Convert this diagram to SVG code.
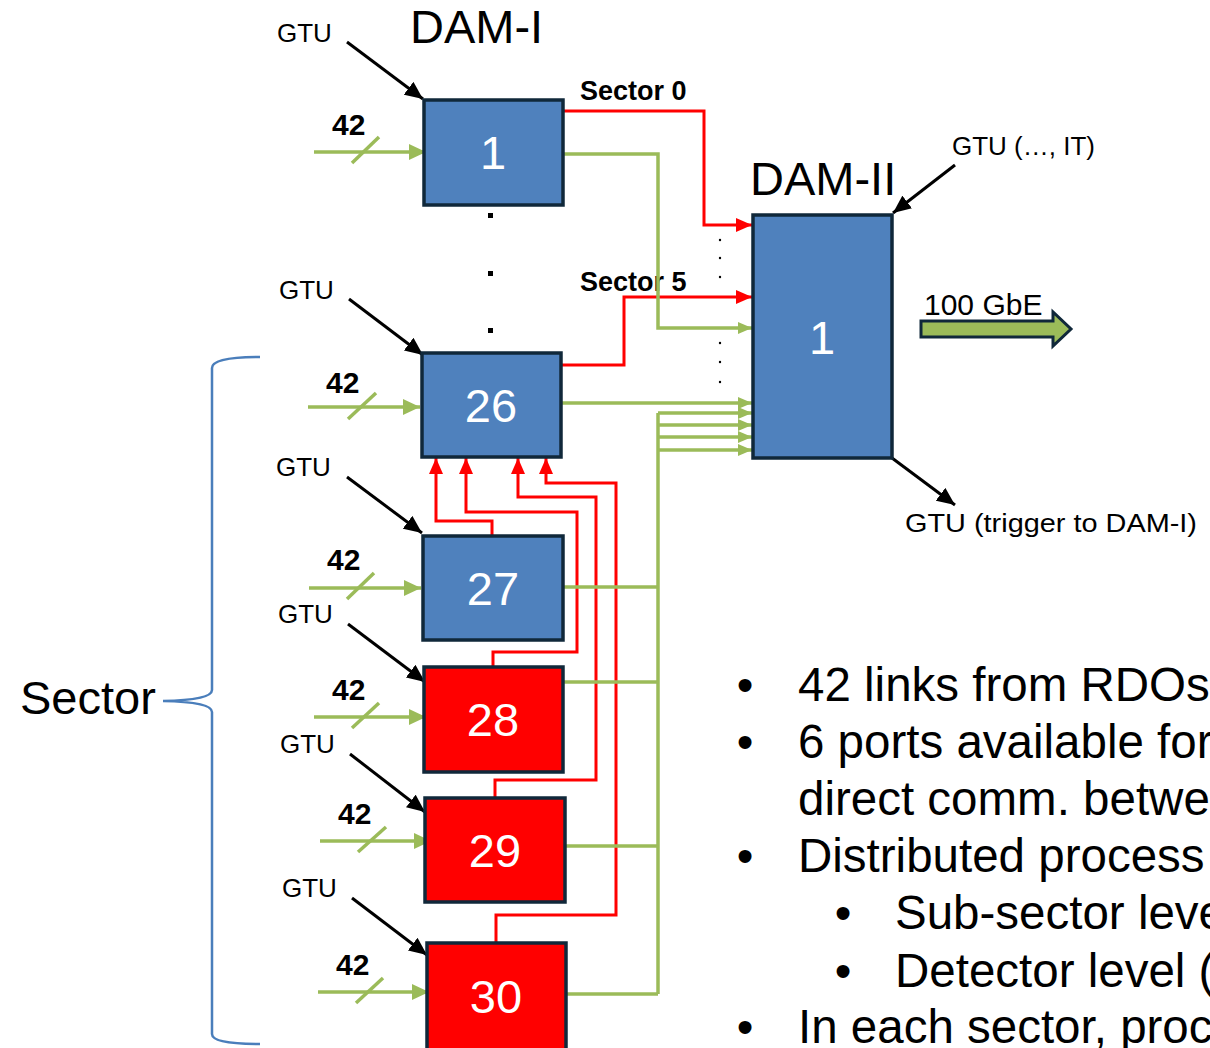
<svg xmlns="http://www.w3.org/2000/svg" width="1210" height="1048" viewBox="0 0 1210 1048">
<defs>
<style>
.box{stroke:#10283a;stroke-width:3.5}
.blue{fill:#4f81bd}
.redf{fill:#ff0000}
.num{font-family:"Liberation Sans",Arial,sans-serif;font-size:47px;fill:#fff;text-anchor:middle}
.gtu{font-family:"Liberation Sans",Arial,sans-serif;font-size:26px;fill:#000}
.n42{font-family:"Liberation Sans",Arial,sans-serif;font-size:30px;font-weight:bold;fill:#000}
.sec{font-family:"Liberation Sans",Arial,sans-serif;font-size:27px;font-weight:bold;fill:#000}
.title{font-family:"Liberation Sans",Arial,sans-serif;font-size:47px;fill:#000}
.bul{font-family:"Liberation Sans",Arial,sans-serif;font-size:47.5px;fill:#000}
.blk{stroke:#000;stroke-width:3;fill:none;marker-end:url(#ab)}
.red{stroke:#ff0000;stroke-width:3;fill:none}
.redA{stroke:#ff0000;stroke-width:3;fill:none;marker-end:url(#ar)}
.grn{stroke:#9bbb59;stroke-width:3.5;fill:none}
.grnA{stroke:#9bbb59;stroke-width:3.5;fill:none;marker-end:url(#ag)}
.grnI{stroke:#9bbb59;stroke-width:3.5;fill:none;marker-end:url(#agi)}
</style>
<marker id="ab" markerUnits="userSpaceOnUse" markerWidth="20" markerHeight="16" refX="18" refY="8" orient="auto"><path d="M0,0 L18,8 L0,16 Z" fill="#000"/></marker>
<marker id="ar" markerUnits="userSpaceOnUse" markerWidth="16" markerHeight="14" refX="16" refY="7" orient="auto"><path d="M0,0 L16,7 L0,14 Z" fill="#ff0000"/></marker>
<marker id="ag" markerUnits="userSpaceOnUse" markerWidth="14" markerHeight="12" refX="14" refY="6" orient="auto"><path d="M0,0 L14,6 L0,12 Z" fill="#9bbb59"/></marker>
<marker id="agi" markerUnits="userSpaceOnUse" markerWidth="17" markerHeight="16" refX="17" refY="8" orient="auto"><path d="M0,0 L17,8 L0,16 Z" fill="#9bbb59"/></marker>
</defs>
<rect width="1210" height="1048" fill="#fff"/>

<g id="labels">
<text class="title" x="410" y="43">DAM-I</text>
<text class="title" x="750" y="195">DAM-II</text>
<text class="sec" x="580" y="100">Sector 0</text>
<text class="sec" x="580" y="291">Sector 5</text>
<text class="gtu" x="952" y="155">GTU (…, IT)</text>
<text class="gtu" x="905" y="532" textLength="292" lengthAdjust="spacingAndGlyphs">GTU (trigger to DAM-I)</text>
<text class="gtu" x="924" y="315" style="font-size:30px">100 GbE</text>
<text class="gtu" x="20" y="714" style="font-size:47px">Sector</text>
</g>

<g id="brace">
<path d="M260,357 Q212,357 212,368 L212,690 Q212,700 163,701 Q212,702 212,712 L212,1034 Q212,1044 260,1044" fill="none" stroke="#4a7ebb" stroke-width="2.5"/>
</g>

<g id="dots">
<rect x="488" y="213" width="5" height="5" fill="#000"/>
<rect x="488" y="271" width="5" height="5" fill="#000"/>
<rect x="488" y="328" width="5" height="5" fill="#000"/>
<circle cx="720" cy="240" r="1.2" fill="#000"/>
<circle cx="720" cy="258" r="1.2" fill="#000"/>
<circle cx="720" cy="277" r="1.2" fill="#000"/>
<circle cx="720" cy="343" r="1.2" fill="#000"/>
<circle cx="720" cy="362" r="1.2" fill="#000"/>
<circle cx="720" cy="382" r="1.2" fill="#000"/>
</g>

<g id="connectors">
<text class="gtu" x="277" y="42">GTU</text>
<line class="blk" x1="347" y1="42" x2="423" y2="99"/>
<text class="gtu" x="279" y="299">GTU</text>
<line class="blk" x1="349" y1="299" x2="423" y2="355"/>
<text class="gtu" x="276" y="476">GTU</text>
<line class="blk" x1="347" y1="477" x2="422" y2="533"/>
<text class="gtu" x="278" y="623">GTU</text>
<line class="blk" x1="348" y1="624" x2="425" y2="682"/>
<text class="gtu" x="280" y="753">GTU</text>
<line class="blk" x1="350" y1="754" x2="425" y2="812"/>
<text class="gtu" x="282" y="897">GTU</text>
<line class="blk" x1="352" y1="898" x2="427" y2="955"/>
<line class="blk" x1="955" y1="165" x2="893" y2="213"/>
<line class="blk" x1="892" y1="458" x2="955" y2="505"/>

<text class="n42" x="332" y="135">42</text>
<line class="grnI" x1="314" y1="152" x2="426" y2="152"/>
<line class="grn" x1="352" y1="163" x2="379" y2="137"/>
<text class="n42" x="326" y="393">42</text>
<line class="grnI" x1="308" y1="407" x2="420" y2="407"/>
<line class="grn" x1="348" y1="419" x2="376" y2="393"/>
<text class="n42" x="327" y="570">42</text>
<line class="grnI" x1="309" y1="588" x2="421" y2="588"/>
<line class="grn" x1="347" y1="599" x2="374" y2="573"/>
<text class="n42" x="332" y="700">42</text>
<line class="grnI" x1="314" y1="717" x2="426" y2="717"/>
<line class="grn" x1="352" y1="728" x2="379" y2="703"/>
<text class="n42" x="338" y="824">42</text>
<line class="grnI" x1="320" y1="841" x2="431" y2="841"/>
<line class="grn" x1="358" y1="852" x2="386" y2="827"/>
<text class="n42" x="336" y="975">42</text>
<line class="grnI" x1="318" y1="992" x2="429" y2="992"/>
<line class="grn" x1="356" y1="1003" x2="383" y2="978"/>

<polyline class="redA" points="563,111 704,111 704,225 752,225"/>
<polyline class="redA" points="561,365 624,365 624,297 752,297"/>

<polyline class="redA" points="492,536 492,521 436,521 436,458"/>
<polyline class="redA" points="493,667 493,652 577,652 577,512 466,512 466,458"/>
<polyline class="redA" points="495,798 495,780 596,780 596,497 518,497 518,458"/>
<polyline class="redA" points="496,943 496,915 616,915 616,483 546,483 546,458"/>

<polyline class="grnA" points="563,154 658,154 658,328 752,328"/>
<polyline class="grnA" points="561,403 752,403"/>
<polyline class="grn" points="658,994 658,413"/>
<line class="grnA" x1="658" y1="413" x2="752" y2="413"/>
<line class="grnA" x1="658" y1="425" x2="752" y2="425"/>
<line class="grnA" x1="658" y1="437" x2="752" y2="437"/>
<line class="grnA" x1="658" y1="450" x2="752" y2="450"/>
<line class="grn" x1="563" y1="587" x2="658" y2="587"/>
<line class="grn" x1="563" y1="682" x2="658" y2="682"/>
<line class="grn" x1="565" y1="846" x2="658" y2="846"/>
<line class="grn" x1="566" y1="994" x2="658" y2="994"/>

<path d="M921,321 L1053,321 L1053,312 L1071,329 L1053,346 L1053,337 L921,337 Z" fill="#9bbb59" stroke="#10283a" stroke-width="3"/>
</g>

<g id="node-1"><rect class="box blue" x="424" y="100" width="139" height="105"/><text class="num" x="493" y="169">1</text></g>
<g id="node-26"><rect class="box blue" x="422" y="353" width="139" height="104"/><text class="num" x="491" y="422">26</text></g>
<g id="node-27"><rect class="box blue" x="423" y="536" width="140" height="104"/><text class="num" x="493" y="605">27</text></g>
<g id="node-28"><rect class="box redf" x="424" y="667" width="139" height="105"/><text class="num" x="493" y="736">28</text></g>
<g id="node-29"><rect class="box redf" x="425" y="798" width="140" height="104"/><text class="num" x="495" y="867">29</text></g>
<g id="node-30"><rect class="box redf" x="427" y="943" width="139" height="112"/><text class="num" x="496" y="1013">30</text></g>
<g id="node-dam2"><rect class="box blue" x="753" y="215" width="139" height="243"/><text class="num" x="822" y="354">1</text></g>

<g id="bullets">
<text class="bul" x="745" y="701" text-anchor="middle">•</text><text class="bul" x="798" y="701">42 links from RDOs</text>
<text class="bul" x="745" y="758" text-anchor="middle">•</text><text class="bul" x="798" y="758">6 ports available for</text>
<text class="bul" x="798" y="815">direct comm. betwe</text>
<text class="bul" x="745" y="872" text-anchor="middle">•</text><text class="bul" x="798" y="872">Distributed process</text>
<text class="bul" x="843" y="929" text-anchor="middle">•</text><text class="bul" x="895" y="929">Sub-sector leve</text>
<text class="bul" x="843" y="987" text-anchor="middle">•</text><text class="bul" x="895" y="987">Detector level (</text>
<text class="bul" x="745" y="1043" text-anchor="middle">•</text><text class="bul" x="798" y="1043">In each sector, proc</text>
</g>
</svg>
